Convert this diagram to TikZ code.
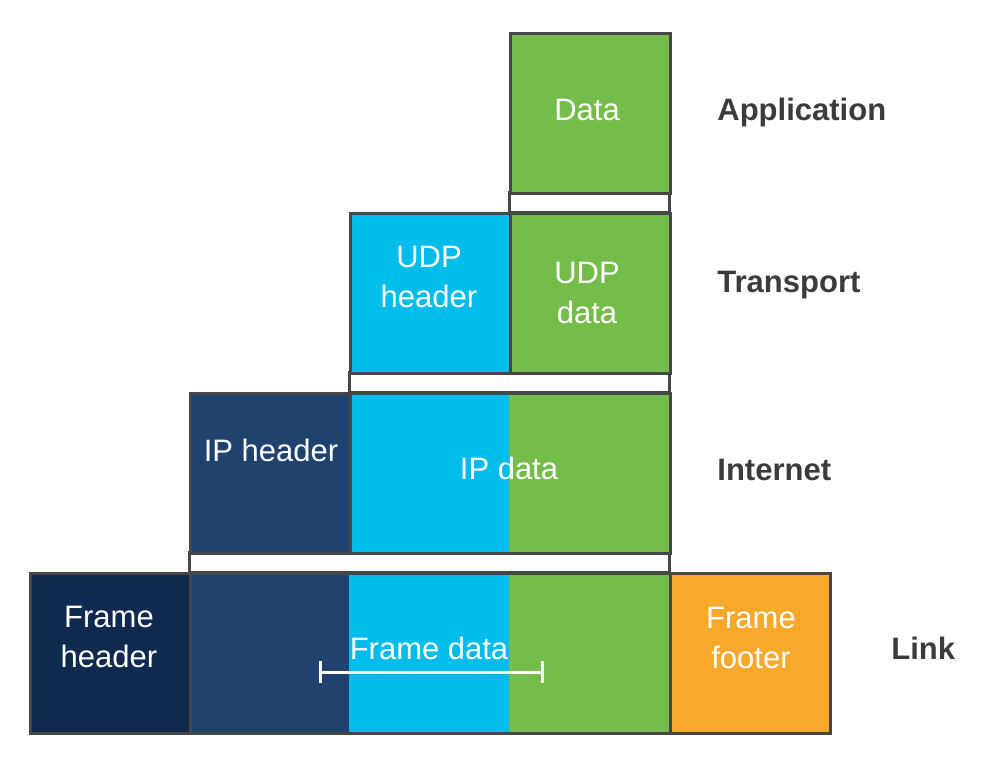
\documentclass[tikz,border=0pt]{standalone}
\usepackage{fontspec}
\setmainfont{Liberation Sans}
\usetikzlibrary{arrows.meta}
\definecolor{framenavy}{HTML}{0F2A4E}
\definecolor{ipnavy}{HTML}{1F426E}
\definecolor{udpcyan}{HTML}{00BCEB}
\definecolor{datagreen}{HTML}{74BD4A}
\definecolor{footorange}{HTML}{F8A92C}
\definecolor{edgegray}{HTML}{474747}
\definecolor{labelgray}{HTML}{3B3B3B}
\tikzset{
  box/.style={draw=edgegray, line width=1.5pt, minimum width=80pt, minimum height=80pt,
    inner sep=0pt, anchor=north west},
  gapbox/.style={draw=edgegray, line width=1.5pt, fill=white},
  boxtext/.style={text=white, font=\fontsize{15.5}{20}\selectfont, align=center,
    anchor=base, inner sep=0pt},
  layer/.style={text=labelgray, font=\fontsize{15.5}{20}\selectfont\bfseries,
    anchor=base west, inner sep=0pt},
}

\begin{document}
\begin{tikzpicture}[x=0.5pt,y=-0.5pt]
\useasboundingbox (0,0) rectangle (1004,761);

% white gaps between the layers
\draw[gapbox] (509,192) rectangle (669,212);
\draw[gapbox] (349,372) rectangle (669,392);
\draw[gapbox] (189,552) rectangle (669,572);

% Application
\node[box, fill=datagreen] (data) at (509,32) {};

% Transport
\node[box, fill=udpcyan] (udphdr) at (349,212) {};
\node[box, fill=datagreen] (udpdata) at (509,212) {};

% Internet
\node[box, fill=ipnavy] (iphdr) at (189,392) {};
\fill[udpcyan] (349,392) rectangle (509,552);
\fill[datagreen] (509,392) rectangle (669,552);
\node[box, minimum width=160pt] (ipdata) at (349,392) {};

% Link
\node[box, fill=framenavy] (framehdr) at (29,572) {};
\fill[ipnavy] (189,572) rectangle (349,732);
\fill[udpcyan] (349,572) rectangle (509,732);
\fill[datagreen] (509,572) rectangle (669,732);
\node[box, minimum width=240pt] (framedata) at (189,572) {};
\node[box, fill=footorange] (framefoot) at (669,572) {};

% texts in the boxes (base = last line)
\node[boxtext] (datatxt) at (587,120) {Data};
\node[boxtext] (udphdrtxt) at (429,307) {UDP\\header};
\node[boxtext] (udpdatatxt) at (587,323) {UDP\\data};
\node[boxtext] (iphdrtxt) at (271,461) {IP header};
\node[boxtext] (ipdatatxt) at (509,479) {IP data};
\node[boxtext] (framehdrtxt) at (109,667) {Frame\\header};
\node[boxtext] (framedatatxt) at (429,659) {Frame data};
\node[boxtext] (framefoottxt) at (751,668) {Frame\\footer};

\coordinate (spanl) at (319,672);
\coordinate (spanr) at (544,672);
\draw[white, line width=1.5pt, {Bar[width=11pt]}-{Bar[width=11pt]}] (spanl) -- (spanr);

% layer names
\node[layer] (app) at (717,120) {Application};
\node[layer] (trans) at (717,292) {Transport};
\node[layer] (inet) at (717,480) {Internet};
\node[layer] (link) at (891,659) {Link};

\end{tikzpicture}
\end{document}
